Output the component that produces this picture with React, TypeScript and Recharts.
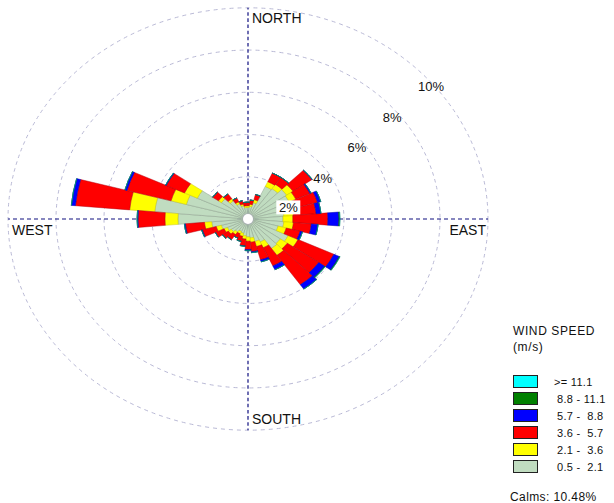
import React from 'react';
import { RadialBarChart, RadialBar, PolarAngleAxis, PolarRadiusAxis, PolarGrid } from 'recharts';

// Direction (degrees clockwise from north) of each 10° sector
const directions = [0, 10, 20, 30, 40, 50, 60, 70, 80, 90, 100, 110, 120, 130, 140, 150, 160, 170,
  180, 190, 200, 210, 220, 230, 240, 250, 260, 270, 280, 290, 300, 310, 320, 330, 340, 350];

// Frequency (%) per speed class, stacked outward
const ws05to21 = [0.55, 0.6, 0.8, 1.7, 1.75, 1.97, 1.9, 1.6, 1.5, 1.46, 1.5, 1.3, 1.85, 1.65, 1.7, 1.2, 1.1, 0.9,
  0.85, 0.8, 0.7, 0.65, 0.75, 0.85, 0.95, 1.15, 1.52, 2.92, 3.9, 2.66, 2.33, 1.35, 1.05, 0.8, 0.65, 0.55];
const ws21to36 = [0.08, 0.1, 0.15, 0.25, 0.25, 0.32, 0.3, 0.4, 0.4, 0.41, 0.4, 0.35, 0.45, 0.35, 0.4, 0.3, 0.25, 0.2,
  0.2, 0.15, 0.15, 0.12, 0.15, 0.15, 0.15, 0.22, 0.3, 0.54, 1.05, 0.66, 0.59, 0.15, 0.12, 0.1, 0.08, 0.08];
const ws36to57 = [0.17, 0.2, 0.25, 0.45, 0.4, 0.96, 0.65, 1.0, 0.95, 1.46, 0.75, 0.6, 1.65, 1.6, 1.7, 0.95, 0.65, 0.45,
  0.4, 0.33, 0.25, 0.23, 0.3, 0.3, 0.4, 0.6, 0.8, 1.12, 2.27, 1.9, 0.84, 0.3, 0.28, 0.2, 0.17, 0.17];
const ws57to88 = [0, 0, 0, 0, 0, 0.02, 0.05, 0.14, 0.2, 0.46, 0.28, 0.1, 0.25, 0.3, 0.25, 0.2, 0.1, 0.05,
  0.05, 0.02, 0, 0, 0, 0, 0, 0.03, 0.04, 0.04, 0.17, 0.09, 0.03, 0, 0, 0, 0, 0];
const ws88to111 = [0, 0, 0, 0, 0, 0, 0, 0, 0, 0.04, 0, 0, 0.03, 0.03, 0, 0, 0, 0,
  0, 0, 0, 0, 0, 0, 0, 0, 0, 0, 0, 0, 0, 0, 0, 0, 0, 0];
const ws111up = [0, 0, 0, 0, 0, 0, 0, 0, 0, 0, 0, 0, 0, 0, 0, 0, 0, 0,
  0, 0, 0, 0, 0, 0, 0, 0, 0, 0, 0, 0, 0, 0, 0, 0, 0, 0];

const binKeys = ['b0', 'b1', 'b2', 'b3', 'b4', 'b5'];
const binLabels = ['0.5 -  2.1', '2.1 -  3.6', '3.6 -  5.7', '5.7 -  8.8', '8.8 - 11.1', '>= 11.1'];
const binColors = ['#C0DCC0', '#FFFF00', '#FF0000', '#0000FF', '#008000', '#00FFFF'];
const binStrokes = ['#8a9c8a', '#c8c800', '#b00010', '#0000a0', '#005000', '#00a0a0'];
const radiusDomain = [0, 10];
const calmsText = 'Calms: 10.48%';
const cardinalLabels: Record<number, string> = { 0: 'NORTH', 90: 'EAST', 180: 'SOUTH', 270: 'WEST' };

const series = [ws05to21, ws21to36, ws36to57, ws57to88, ws88to111, ws111up];
const data = directions.map((d, i) => {
  const row: Record<string, number> = { dir: d };
  binKeys.forEach((k, j) => { row[k] = series[j][i]; });
  return row;
});

const FONT = '"Liberation Sans", Arial, Helvetica, sans-serif';
const SY = 0.88; // vertical squash of the original plot
const W = 614;
const CH = 572;
const CX = 248;
const CY = 219 / SY;
const R = 240;

const pctOffsets: Record<number, [number, number]> = {
  2: [3, 17], 4: [0, 14], 6: [-3, 9], 8: [-5, 6], 10: [-3.5, 1],
};

const RadiusTick = (props: any) => {
  const { x, y, payload } = props;
  const v = payload && payload.value;
  if (!v || !pctOffsets[v]) return null;
  const [dx, dy] = pctOffsets[v];
  return (
    <g transform={`translate(${x + dx},${y + dy}) scale(1,${1 / SY})`}>
      {v === 2 && <rect x={-12} y={-7} width={24} height={14} fill="#fff" />}
      <text x={0} y={0} textAnchor="middle" dominantBaseline="central" fontSize={13} fill="#111" fontFamily={FONT}>
        {`${v}%`}
      </text>
    </g>
  );
};

const AngleTick = (props: any) => {
  const { payload } = props;
  const label = cardinalLabels[payload && payload.value];
  if (!label) return null;
  let px = 0, py = 0, anchor = 'start';
  if (label === 'NORTH') { px = CX + 4; py = 23; }
  if (label === 'SOUTH') { px = CX + 4; py = 424; }
  if (label === 'WEST') { px = 12; py = 235; }
  if (label === 'EAST') { px = 486; py = 235; anchor = 'end'; }
  return (
    <g transform={`translate(${px},${py / SY}) scale(1,${1 / SY})`}>
      <text x={0} y={0} textAnchor={anchor} fontSize={14} fill="#111" fontFamily={FONT}>{label}</text>
    </g>
  );
};

export default function App() {
  const legendRows = [5, 4, 3, 2, 1, 0];
  return (
    <div style={{ position: 'absolute', left: 0, top: 0, width: W, height: 503, background: '#fff', overflow: 'hidden', fontFamily: FONT }}>
      <div style={{ position: 'absolute', left: 0, top: 0, width: W, height: CH, transform: `scaleY(${SY})`, transformOrigin: '0 0' }}>
        <RadialBarChart
          width={W}
          height={CH}
          data={data}
          layout="centric"
          cx={CX}
          cy={CY}
          innerRadius={0}
          outerRadius={R}
          startAngle={85}
          endAngle={-275}
          barCategoryGap={0}
          barGap={0}
          margin={{ top: 0, right: 0, bottom: 0, left: 0 }}
        >
          <PolarGrid gridType="circle" radialLines={false} stroke="#b4b4d2" strokeDasharray="4 4" strokeWidth={1} />
          <PolarGrid gridType="circle" polarRadius={[0]} polarAngles={[0, 90, 180, 270]} radialLines stroke="#101080" strokeDasharray="4 3" strokeWidth={1.2} />
          <PolarAngleAxis dataKey="dir" type="category" axisLine={false} tickLine={false} tick={<AngleTick />} />
          <PolarRadiusAxis type="number" domain={radiusDomain} tickCount={6} angle={39} axisLine={false} tickLine={false} tick={<RadiusTick />} />
          {binKeys.map((k, j) => (
            <RadialBar key={k} dataKey={k} stackId="s" fill={binColors[j]} stroke={binStrokes[j]} strokeWidth={0.5} isAnimationActive={false} />
          ))}
        </RadialBarChart>
      </div>
      <div style={{ position: 'absolute', left: CX - 5, top: 219 - 5, width: 10, height: 10, borderRadius: '50%', background: '#fff', boxShadow: '0 0 1px 0.5px #aab' }} />
      <div style={{ position: 'absolute', left: 513, top: 324, fontSize: 12, color: '#111', letterSpacing: 0.6, lineHeight: '14px' }}>WIND SPEED</div>
      <div style={{ position: 'absolute', left: 513, top: 340, fontSize: 12, color: '#111', letterSpacing: 0.6, lineHeight: '14px' }}>(m/s)</div>
      {legendRows.map((j, i) => (
        <div key={j} style={{ position: 'absolute', left: 513, top: 375 + i * 17, height: 13, display: 'flex', alignItems: 'center' }}>
          <div style={{ width: 23, height: 11, background: binColors[j], border: '1px solid #222' }} />
          <div style={{ marginLeft: j === 5 ? 16 : 19, fontSize: 11, color: '#111', whiteSpace: 'pre', letterSpacing: 0.3 }}>{binLabels[j]}</div>
        </div>
      ))}
      <div style={{ position: 'absolute', left: 510, top: 490, fontSize: 12, color: '#111', letterSpacing: 0.4, lineHeight: '14px' }}>{calmsText}</div>
    </div>
  );
}
